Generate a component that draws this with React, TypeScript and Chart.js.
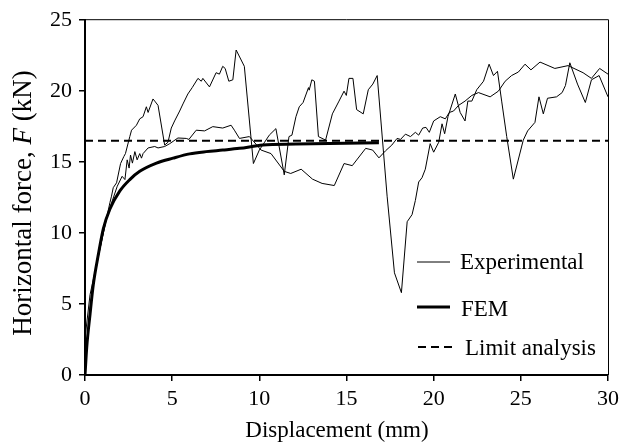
import React, { useEffect, useRef } from "react";
import { Chart, registerables } from "chart.js";

Chart.register(...registerables);

// ---- data ----
const xTicks = [0, 5, 10, 15, 20, 25, 30];
const yTicks = [0, 5, 10, 15, 20, 25];

// Experimental test trace 1 (upper, jagged)
const expAX = [0, 0.03, 0.29, 0.86, 1.43, 1.52, 1.62, 1.81, 2.04, 2.23, 2.32, 2.57, 2.67, 2.95, 3.14, 3.33, 3.52, 3.62, 3.9, 4.0, 4.19, 4.57, 4.76, 4.95, 5.14, 5.43, 5.62, 5.9, 6.15, 6.48, 6.67, 6.76, 7.14, 7.52, 7.71, 7.9, 8.04, 8.25, 8.48, 8.67, 9.14, 9.66, 10.0, 10.3, 10.57, 10.95, 11.43, 11.7, 11.87, 12.1, 12.29, 12.51, 12.82, 12.86, 13.01, 13.16, 13.39, 13.8, 14.19, 14.57, 14.86, 14.99, 15.14, 15.37, 15.58, 15.96, 16.25, 16.51, 16.76, 17.33, 17.75, 18.15, 18.48, 18.76, 18.95, 19.14, 19.33, 19.52, 19.8, 20.0, 20.29, 20.48, 20.63, 20.82, 21.24, 21.52, 21.8, 21.96, 22.19, 22.47, 22.86, 23.18, 23.43, 23.66, 23.9, 24.19, 24.57, 25.14, 25.39, 25.81, 26.04, 26.29, 26.53, 27.05, 27.37, 27.56, 27.81, 28.25, 28.7, 29.05, 29.49, 30.0];
const expAY = [0, 2.9, 5.67, 8.9, 12.15, 12.6, 13.2, 13.54, 14.9, 15.4, 15.6, 16.8, 17.25, 17.6, 18.05, 18.2, 18.9, 18.5, 19.45, 19.3, 19.0, 16.2, 16.4, 17.4, 17.9, 18.6, 19.1, 19.8, 20.25, 20.9, 20.7, 20.9, 20.3, 21.3, 21.2, 21.75, 21.6, 20.7, 20.8, 22.9, 21.75, 14.9, 15.85, 16.4, 16.9, 17.36, 14.1, 16.8, 16.9, 18.2, 18.9, 19.2, 20.25, 20.07, 20.8, 20.7, 16.8, 16.55, 18.4, 19.3, 20.0, 19.7, 20.9, 20.9, 18.7, 18.4, 20.1, 20.5, 21.1, 12.6, 7.2, 5.8, 10.8, 11.3, 12.3, 13.6, 13.9, 14.5, 16.3, 15.7, 16.4, 17.7, 17.0, 18.2, 19.8, 18.5, 17.9, 19.3, 19.3, 20.1, 20.7, 21.9, 21.1, 21.4, 19.3, 16.8, 13.8, 16.55, 17.2, 17.8, 19.6, 18.4, 19.5, 19.6, 19.9, 20.4, 22.0, 20.5, 19.2, 20.8, 21.1, 19.6];

// Experimental test trace 2 (lower, smoother)
const expBX = [0, 0.1, 0.3, 0.55, 0.86, 1.2, 1.43, 1.6, 1.85, 2.13, 2.29, 2.42, 2.53, 2.61, 2.72, 2.86, 2.99, 3.14, 3.24, 3.33, 3.62, 4.0, 4.19, 4.57, 4.86, 5.33, 5.81, 5.96, 6.38, 6.86, 7.33, 7.9, 8.38, 8.57, 8.86, 9.43, 10.1, 10.67, 11.43, 11.8, 12.4, 13.05, 13.6, 14.3, 14.86, 15.33, 16.1, 16.5, 16.86, 17.24, 17.6, 17.9, 18.1, 18.38, 18.67, 18.95, 19.14, 19.37, 19.56, 19.75, 20.0, 20.38, 20.67, 20.9, 21.14, 21.43, 21.8, 22.19, 22.57, 23.24, 23.71, 24.1, 24.47, 24.86, 25.24, 25.58, 26.1, 26.95, 27.71, 28.57, 29.05, 29.52, 30.0];
const expBY = [0, 2.0, 4.8, 7.0, 8.9, 10.9, 11.8, 12.4, 13.3, 14.0, 13.77, 15.16, 14.58, 15.5, 14.93, 15.74, 15.16, 15.6, 15.28, 15.6, 16.0, 16.1, 16.0, 16.1, 16.3, 16.7, 16.67, 16.6, 17.25, 17.2, 17.5, 17.4, 17.6, 17.25, 16.67, 16.8, 15.85, 15.6, 14.35, 14.2, 14.5, 13.8, 13.5, 13.35, 14.9, 14.75, 15.97, 15.85, 15.3, 15.8, 16.2, 16.67, 16.6, 16.97, 16.8, 17.1, 16.9, 17.4, 17.45, 17.1, 17.9, 18.2, 18.05, 18.5, 18.6, 19.0, 19.3, 19.7, 19.9, 19.6, 20.0, 20.7, 21.1, 21.35, 21.9, 21.5, 22.05, 21.6, 21.8, 21.3, 20.9, 21.6, 21.2];

// FEM curve
const femX = [0, 0.1, 0.29, 0.48, 0.76, 1.05, 1.43, 2.0, 2.57, 3.14, 4.1, 5.05, 6.0, 6.95, 7.9, 8.86, 10.2, 12.1, 14.0, 16.86];
const femY = [0, 1.97, 4.3, 6.4, 8.45, 10.3, 11.7, 12.97, 13.77, 14.35, 14.93, 15.28, 15.58, 15.74, 15.85, 15.97, 16.2, 16.27, 16.32, 16.37];

// Limit analysis load
const limitX = [0, 30];
const limitY = [16.5, 16.5];

const legendLabels = ["Experimental", "FEM", "Limit analysis"];
const xTitle = "Displacement (mm)";
const yTitleParts = ["Horizontal force, ", "F", " (kN)"];

const SERIF = '"Liberation Serif", "Times New Roman", Times, serif';

const zip = (xs: number[], ys: number[]) => xs.map((x, i) => ({ x, y: ys[i] }));

const decor = {
  id: "decor",
  afterDraw(chart: any) {
    const { ctx, chartArea: a } = chart;
    ctx.save();
    // top and right frame
    ctx.strokeStyle = "#000";
    ctx.lineWidth = 1;
    ctx.setLineDash([]);
    ctx.beginPath();
    ctx.moveTo(a.left, a.top - 0.5);
    ctx.lineTo(a.right + 0.5, a.top - 0.5);
    ctx.lineTo(a.right + 0.5, a.bottom);
    ctx.stroke();

    ctx.fillStyle = "#000";

    // x axis title
    ctx.font = `23px ${SERIF}`;
    ctx.textAlign = "center";
    ctx.textBaseline = "alphabetic";
    ctx.fillText(xTitle, 337, 437);

    // y axis title with italic F
    ctx.save();
    ctx.translate(31, 203);
    ctx.rotate(-Math.PI / 2);
    ctx.textBaseline = "alphabetic";
    ctx.textAlign = "left";
    const fonts = [`27px ${SERIF}`, `italic 27px ${SERIF}`, `27px ${SERIF}`];
    let total = 0;
    const widths = yTitleParts.map((t, i) => {
      ctx.font = fonts[i];
      const w = ctx.measureText(t).width;
      total += w;
      return w;
    });
    let cx = -total / 2;
    yTitleParts.forEach((t, i) => {
      ctx.font = fonts[i];
      ctx.fillText(t, cx, 0);
      cx += widths[i];
    });
    ctx.restore();

    // legend
    ctx.font = `23px ${SERIF}`;
    ctx.textAlign = "left";
    ctx.textBaseline = "alphabetic";
    const items = [
      { y: 262, w: 1, dash: [] as number[], x0: 417, x1: 450, tx: 460, base: 269 },
      { y: 307, w: 3, dash: [] as number[], x0: 417, x1: 450, tx: 461, base: 316 },
      { y: 347, w: 2, dash: [8, 5], x0: 418, x1: 452, tx: 465, base: 355 },
    ];
    items.forEach((it, i) => {
      ctx.beginPath();
      ctx.lineWidth = it.w;
      ctx.setLineDash(it.dash);
      ctx.moveTo(it.x0, it.y);
      ctx.lineTo(it.x1, it.y);
      ctx.stroke();
      ctx.setLineDash([]);
      ctx.fillText(legendLabels[i], it.tx, it.base);
    });
    ctx.restore();
  },
};

export default function App() {
  const ref = useRef<HTMLCanvasElement>(null);
  useEffect(() => {
    const canvas = ref.current;
    if (!canvas) return;
    const tickFont = { family: SERIF, size: 22 };
    const chart = new Chart(canvas, {
      type: "scatter",
      data: {
        datasets: [
          {
            label: "FEM",
            data: zip(femX, femY),
            showLine: true,
            borderColor: "#000",
            borderWidth: 3,
            pointRadius: 0,
            cubicInterpolationMode: "monotone",
            order: 0,
          },
          {
            label: "Experimental",
            data: zip(expAX, expAY),
            showLine: true,
            borderColor: "#000",
            borderWidth: 1,
            pointRadius: 0,
            tension: 0,
            order: 1,
          },
          {
            label: "Experimental 2",
            data: zip(expBX, expBY),
            showLine: true,
            borderColor: "#000",
            borderWidth: 1,
            pointRadius: 0,
            tension: 0,
            order: 2,
          },
          {
            label: "Limit analysis",
            data: zip(limitX, limitY),
            showLine: true,
            borderColor: "#000",
            borderWidth: 2,
            borderDash: [8, 5],
            pointRadius: 0,
            order: 3,
          },
        ],
      },
      options: {
        responsive: false,
        animation: false,
        devicePixelRatio: 1,
        layout: { padding: { top: 15, right: 14, left: 0, bottom: 0 } },
        plugins: { legend: { display: false }, tooltip: { enabled: false } },
        scales: {
          x: {
            type: "linear",
            min: 0,
            max: 30,
            afterBuildTicks: (s: any) => {
              s.ticks = xTicks.map((v) => ({ value: v }));
            },
            afterFit: (s: any) => {
              s.height = 71;
            },
            grid: { drawOnChartArea: false, drawTicks: true, tickLength: 6, color: "#000", lineWidth: 1.5 },
            border: { display: true, color: "#000", width: 2 },
            ticks: { color: "#000", font: tickFont, padding: 5, maxRotation: 0, autoSkip: false },
            title: { display: false },
          },
          y: {
            type: "linear",
            min: 0,
            max: 25,
            afterBuildTicks: (s: any) => {
              s.ticks = yTicks.map((v) => ({ value: v }));
            },
            afterFit: (s: any) => {
              s.width = 85;
            },
            grid: { drawOnChartArea: false, drawTicks: true, tickLength: 6, color: "#000", lineWidth: 1.5 },
            border: { display: true, color: "#000", width: 2 },
            ticks: { color: "#000", font: tickFont, padding: 7, autoSkip: false },
          },
        },
      },
      plugins: [decor],
    } as any);
    return () => chart.destroy();
  }, []);
  return (
    <div style={{ position: "absolute", left: 0, top: 0, width: 624, height: 446 }}>
      <canvas ref={ref} width={624} height={446} style={{ display: "block", width: 624, height: 446 }} />
    </div>
  );
}
